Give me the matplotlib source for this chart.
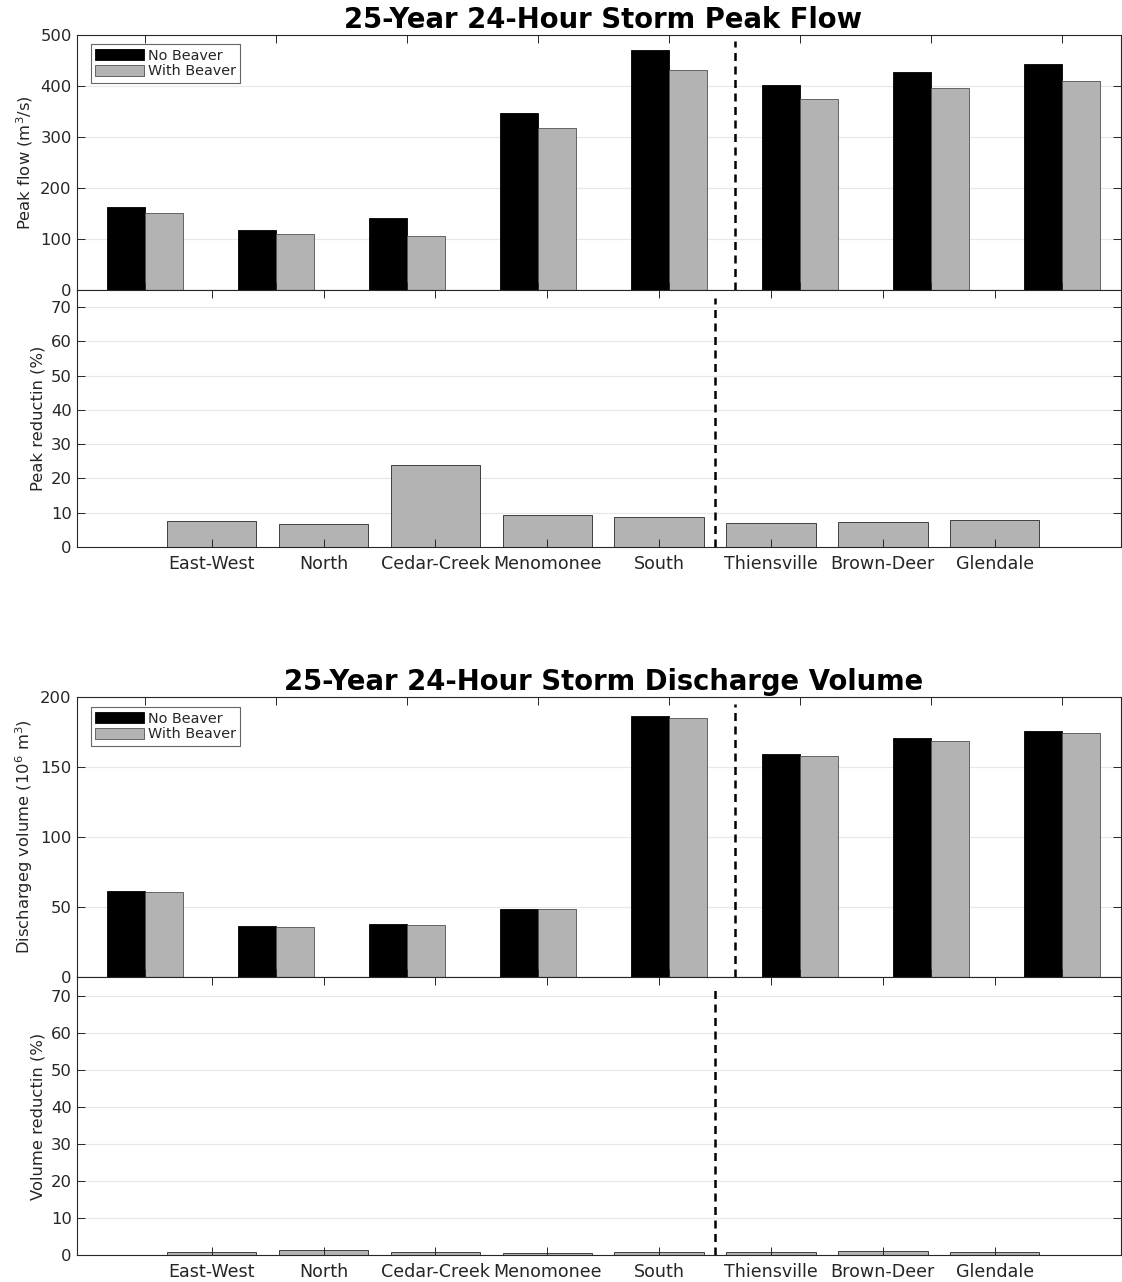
import numpy as np
import matplotlib
matplotlib.use("Agg")
import matplotlib.pyplot as plt

plt.rcParams['font.family'] = ['DejaVu Sans']

# Watershed outlets (left of the divider: sub-basins, right: main-stem gauges)
sites = ["East-West", "North", "Cedar-Creek", "Menomonee", "South",
         "Thiensville", "Brown-Deer", "Glendale"]

# 25-year 24-hour storm peak flow (m^3/s)
peak_no_beaver = [163, 118, 141, 347, 471, 402, 428, 444]
peak_with_beaver = [151, 109, 106, 317, 431, 375, 397, 409]
# Peak reduction (%)
peak_reduction = [7.5, 6.8, 23.8, 9.3, 8.8, 6.9, 7.3, 7.8]

# 25-year 24-hour storm discharge volume (10^6 m^3)
vol_no_beaver = [61.5, 36.1, 37.7, 48.6, 186.5, 159.5, 170.5, 175.8]
vol_with_beaver = [60.9, 35.7, 37.4, 48.3, 185.0, 158.2, 168.8, 174.4]
# Volume reduction (%)
vol_reduction = [0.7, 1.3, 0.7, 0.6, 0.8, 0.8, 1.0, 0.8]

peak_ticks = [0, 100, 200, 300, 400, 500]
vol_ticks = [0, 50, 100, 150, 200]
red_ticks = [0, 10, 20, 30, 40, 50, 60, 70]

W, H = 1122, 1282
fig = plt.figure(figsize=(W / 100, H / 100), dpi=100)

AX_COLOR = "#262626"
GRID_COLOR = "#e8e8e8"
BLACK = "#000000"
GRAY = "#b3b3b3"
FS = 11.8


def px_axes(left, top, right, bottom):
    return fig.add_axes([left / W, 1 - bottom / H, (right - left) / W, (bottom - top) / H])


def style(ax, yticks):
    ax.set_axisbelow(False)
    for s in ax.spines.values():
        s.set_color(AX_COLOR)
        s.set_linewidth(0.8)
    ax.tick_params(direction="in", top=True, right=True, length=5.8, width=0.7,
                   color=AX_COLOR, labelcolor=AX_COLOR, labelsize=FS, pad=4)
    ax.set_yticks(yticks)
    for yv in yticks[1:]:
        ax.axhline(yv, color=GRID_COLOR, lw=0.9, zorder=0)


def divider(ax, ymax):
    ax.axvline(5.5, ymin=0, ymax=ymax, color="black", lw=1.8,
               linestyle=(0, (3.2, 2.2)), zorder=3)


x = np.arange(1, len(sites) + 1)
bw = 0.29


def grouped_panel(ax, no_b, with_b, yticks, ylabel, title):
    ax.bar(x - bw / 2, no_b, bw, color=BLACK, edgecolor="black", lw=0.6,
           label="No Beaver", zorder=1)
    ax.bar(x + bw / 2, with_b, bw, color=GRAY, edgecolor="#505050", lw=0.6,
           label="With Beaver", zorder=1)
    ax.set_xlim(0.483, 8.45)
    ax.set_ylim(yticks[0], yticks[-1])
    style(ax, yticks)
    ax.set_xticks(x)
    ax.set_xticklabels([])
    ax.set_ylabel(ylabel, fontsize=FS, color=AX_COLOR, labelpad=4)
    ax.set_title(title, fontsize=19.8, fontweight="bold", pad=5, x=0.504)
    divider(ax, 0.975)
    leg = ax.legend(loc="upper left", bbox_to_anchor=(0.0128, 0.9635),
                    borderaxespad=0, fontsize=10.4, frameon=True, fancybox=False,
                    edgecolor="#404040", handlelength=3.4, handleheight=0.8,
                    handletextpad=0.25, borderpad=0.3, labelspacing=0.12)
    leg.get_frame().set_linewidth(0.8)
    for t in leg.get_texts():
        t.set_color(AX_COLOR)


def reduction_panel(ax, values, ylabel):
    ax.bar(x, values, 0.8, color=GRAY, edgecolor="#404040", lw=0.7, zorder=1)
    ax.set_xlim(-0.202, 9.13)
    ax.set_ylim(0, 75)
    style(ax, red_ticks)
    ax.set_xticks(x)
    ax.set_xticklabels(sites)
    ax.tick_params(axis="x", pad=6, labelsize=12.6)
    ax.set_ylabel(ylabel, fontsize=FS, color=AX_COLOR, labelpad=4)
    divider(ax, 0.97)


ax1 = px_axes(77.3, 35, 1121, 290)
ax2 = px_axes(77.3, 290, 1121, 547)
ax3 = px_axes(77.3, 697, 1121, 977)
ax4 = px_axes(77.3, 977, 1121, 1255)

grouped_panel(ax1, peak_no_beaver, peak_with_beaver, peak_ticks,
              "Peak flow (m$^3$/s)", "25-Year 24-Hour Storm Peak Flow")
reduction_panel(ax2, peak_reduction, "Peak reductin (%)")
grouped_panel(ax3, vol_no_beaver, vol_with_beaver, vol_ticks,
              "Dischargeg volume (10$^6$ m$^3$)", "25-Year 24-Hour Storm Discharge Volume")
reduction_panel(ax4, vol_reduction, "Volume reductin (%)")

fig.savefig("out.png", dpi=100, facecolor="white")
